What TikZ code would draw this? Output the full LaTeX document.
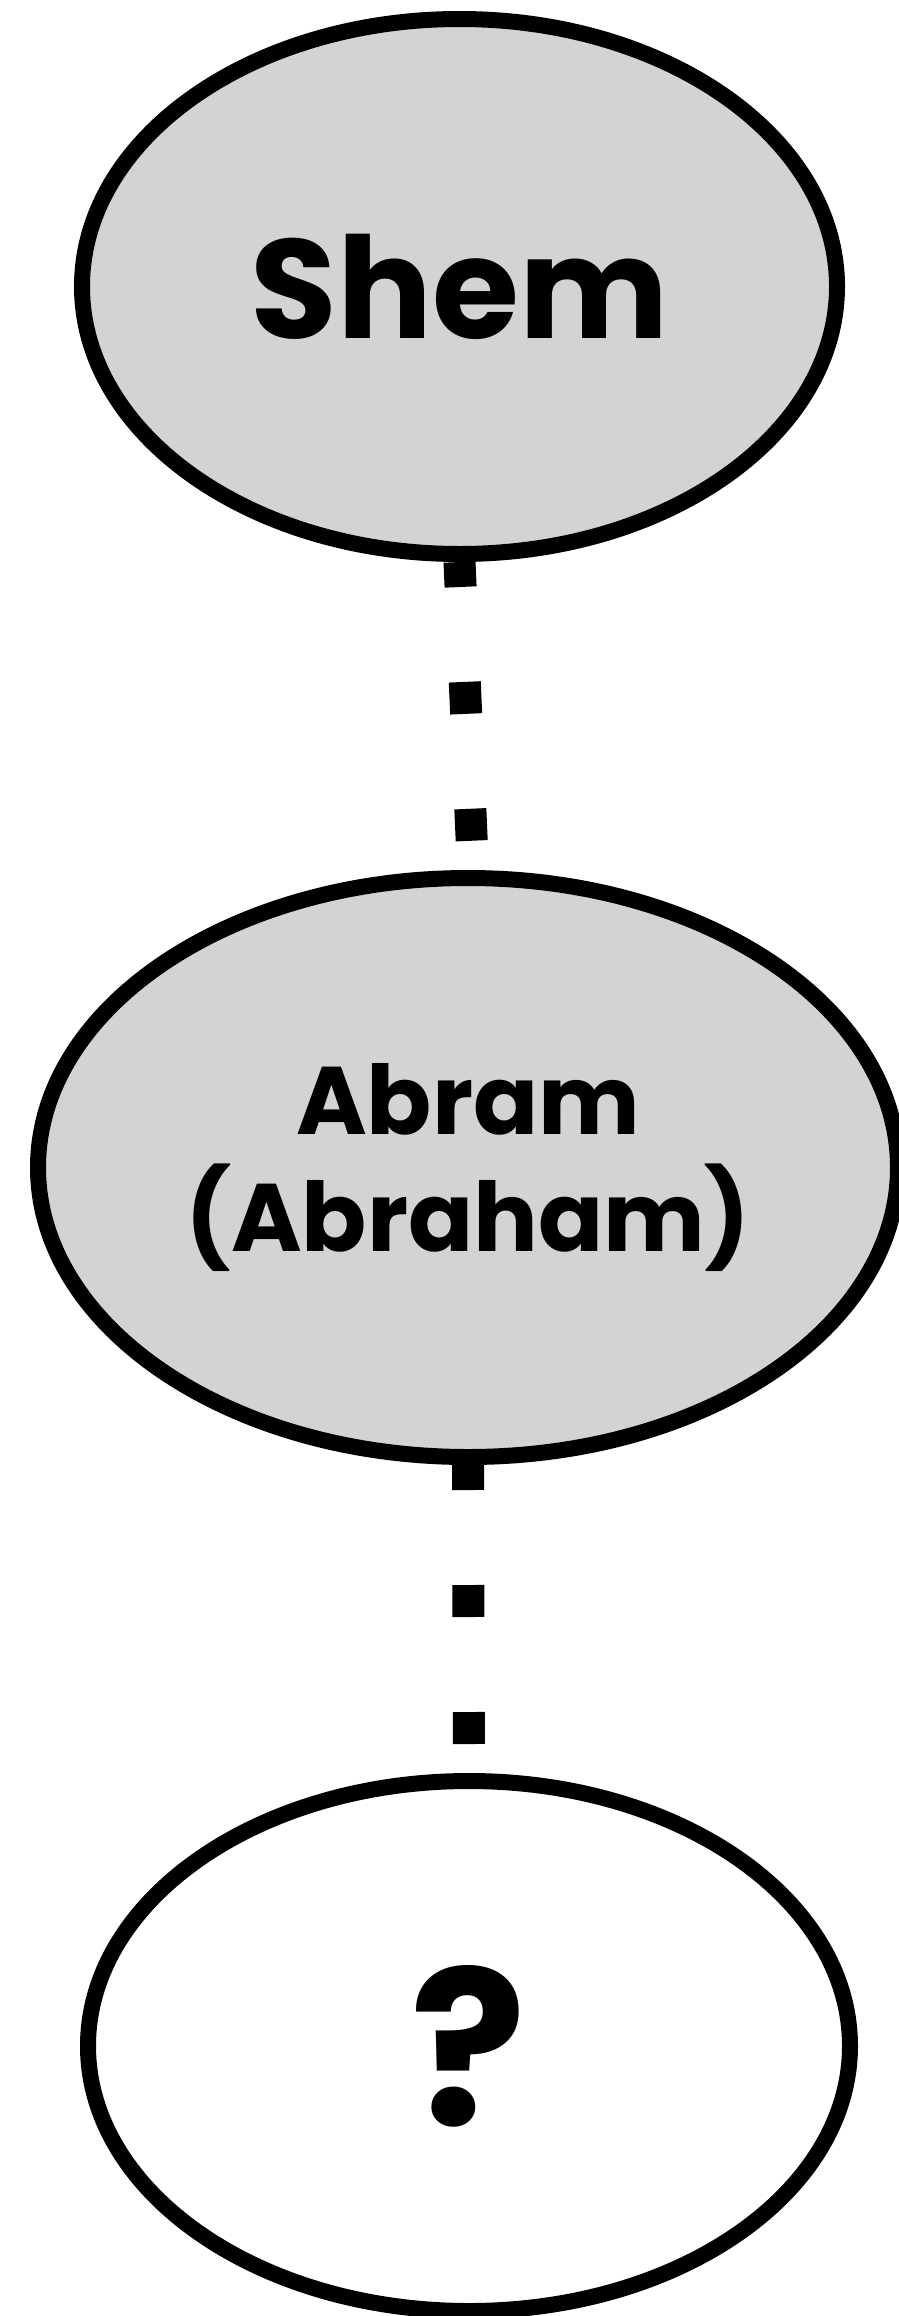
\documentclass[tikz,border=0pt]{standalone}
\usepackage{fontspec}
\setmainfont{Poppins}
\usepackage{tikz}
\usetikzlibrary{shapes.geometric}
\definecolor{persgray}{HTML}{D3D3D3}
\tikzset{
  pers/.style={ellipse,draw=black,fill=persgray,line width=16pt,inner sep=0pt},
  unk/.style={ellipse,draw=black,fill=white,line width=16pt,inner sep=0pt},
  dsc/.style={draw=black,line width=32pt,dash pattern=on 32pt off 95pt,dash phase=7pt},
}

\begin{document}
\begin{tikzpicture}[x=1pt,y=1pt]
\useasboundingbox (0,0) rectangle (898,-2316);
% ---------- the three generations ----------
\node[pers,minimum width=755pt,minimum height=535pt,
  font=\fontsize{141}{150}\selectfont\bfseries] (shem) at (459.5,-286.5) {Shem};
\node[pers,minimum width=860pt,minimum height=579pt,align=center,
  font=\fontsize{96}{117}\selectfont\bfseries] (abram) at (468,-1167.5) {Abram\\(Abraham)};
\node[unk,minimum width=762pt,minimum height=530pt,
  font=\fontsize{216}{230}\selectfont\bfseries] (unkn) at (469,-2046) {?};
% ---------- descent, gaps in between ----------
\draw[dsc] (shem.south) -- ([xshift=5pt]abram.north);
\draw[dsc] (abram.south) -- (unkn.north);
\end{tikzpicture}
\end{document}
